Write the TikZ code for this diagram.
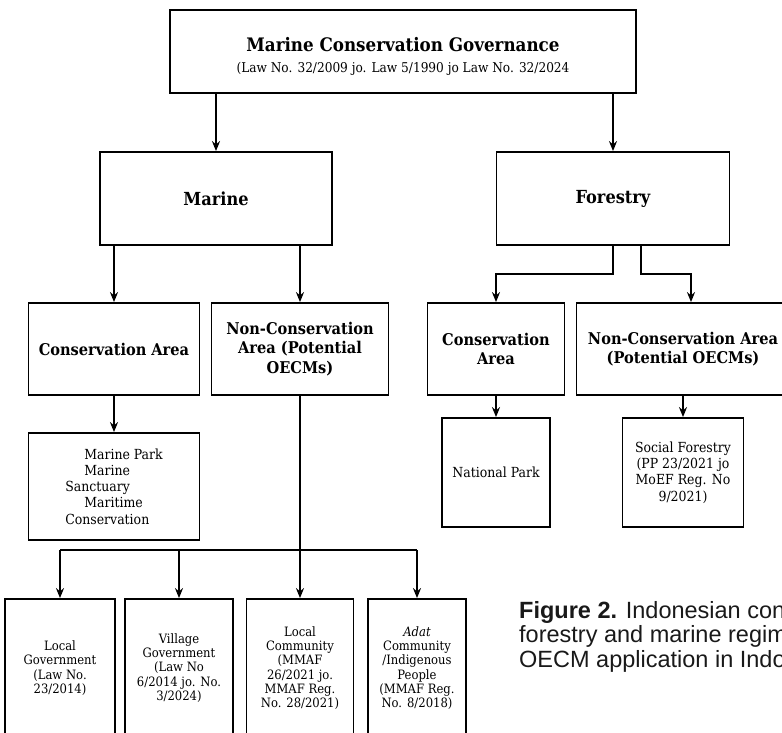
\documentclass[tikz,border=0pt]{standalone}
\usepackage{fontspec}
\setmainfont{DejaVu Serif Condensed}
\newfontfamily\capfont{Liberation Sans}
\usetikzlibrary{arrows.meta}

\begin{document}
\begin{tikzpicture}[x=1pt,y=-1pt,
            bx/.style 2 args={draw,line width=1.8pt,minimum width=#1,minimum height=#2,inner sep=0pt,align=center},
            hd/.style={font=\bfseries\fontsize{16.2}{19.5}\selectfont},
            tx/.style={font=\fontsize{13.9}{16.3}\selectfont},
            sm/.style={font=\fontsize{12.9}{14.2}\selectfont}]
            \useasboundingbox (0,0) rectangle (782,733);
            \clip (0,0) rectangle (782,733);
            % <<< tầng 1
            \node[bx={466pt}{83pt},font=\fontsize{13.5}{21}\selectfont] (top) at (403,51.5)
            {\rule{0pt}{24pt}{\bfseries\fontsize{18.6}{21}\selectfont Marine Conservation Governance}\\
            (Law No. 32/2009 jo. Law 5/1990 jo Law No. 32/2024};
            % <<< tầng 2
            \node[bx={232pt}{93pt},font=\bfseries\fontsize{18}{21}\selectfont] (marine) at (216,198.5) {Marine};
            \node[bx={233pt}{93pt},font=\bfseries\fontsize{18}{21}\selectfont] (forestry) at (613,198.5) {Forestry};
            % <<< tầng 3
            \node[bx={171pt}{92pt},hd] (mca) at (114,349) {Conservation Area};
            \node[bx={177pt}{92pt},hd] (mnca) at (300,349) {Non-Conservation\\Area (Potential\\OECMs)};
            \node[bx={137pt}{92pt},hd] (fca) at (496,349) {Conservation\\Area};
            \node[bx={213pt}{92pt},hd] (fnca) at (683,349) {Non-Conservation Area\\(Potential OECMs)};
            % <<< tầng 4
            \node[bx={171pt}{107pt},tx,align=left] (mpark) at (114,486.5)
            {\hspace*{19pt}Marine Park\\\hspace*{19pt}Marine\\Sanctuary\\\hspace*{19pt}Maritime\\Conservation};
            \node[bx={108pt}{109pt},tx] (npark) at (496,472.5) {National Park};
            \node[bx={121pt}{109pt},tx] (sfor) at (683,472.5) {Social Forestry\\(PP 23/2021 jo\\MoEF Reg. No\\9/2021)};
            % <<< tầng 5
            \node[bx={110pt}{138pt},sm] (b1) at (60,668) {Local\\Government\\(Law No.\\23/2014)};
            \node[bx={108pt}{138pt},sm] (b2) at (179,668) {Village\\Government\\(Law No\\6/2014 jo. No.\\3/2024)};
            \node[bx={107pt}{138pt},sm] (b3) at (300,668) {Local\\Community\\(MMAF\\26/2021 jo.\\MMAF Reg.\\No. 28/2021)};
            \node[bx={98pt}{138pt},sm] (b4) at (417,668) {\textit{Adat}\\Community\\/Indigenous\\People\\(MMAF Reg.\\No. 8/2018)};
            \coordinate (hb) at (0,550);
            % <<< chú thích
            \node[anchor=north west,inner sep=0pt,align=left,font=\capfont\fontsize{23.5}{24.5}\selectfont,text=black!90] (cap) at (519,601)
            {\textbf{Figure 2.} Indonesian conservation\\forestry and marine regimes\\OECM application in Indonesia};
            \begin{scope}[-{Stealth[length=10pt,width=8pt]},line width=1.8pt]
                \draw (top.south -| marine.north) -- (marine.north);
                \draw (top.south -| forestry.north) -- (forestry.north);
                \draw (marine.south -| mca.north) -- (mca.north);
                \draw (marine.south -| mnca.north) -- (mnca.north);
                \draw (forestry.south) -- ++(0,28) -| (fca.north);
                \draw ([xshift=28pt]forestry.south) -- ++(0,28) -| ([xshift=8pt]fnca.north);
                \draw (mca.south) -- (mpark.north);
                \draw (fca.south) -- (npark.north);
                \draw (fnca.south) -- (sfor.north);
                \draw (mnca.south) -- (b3.north);
                \draw (b1.north |- hb) -- (b1.north);
                \draw (b2.north |- hb) -- (b2.north);
                \draw (b4.north |- hb) -- (b4.north);
            \end{scope}
            \draw[line width=1.8pt] (b1.north |- hb) -- (b4.north |- hb);
        \end{tikzpicture}
\end{document}
